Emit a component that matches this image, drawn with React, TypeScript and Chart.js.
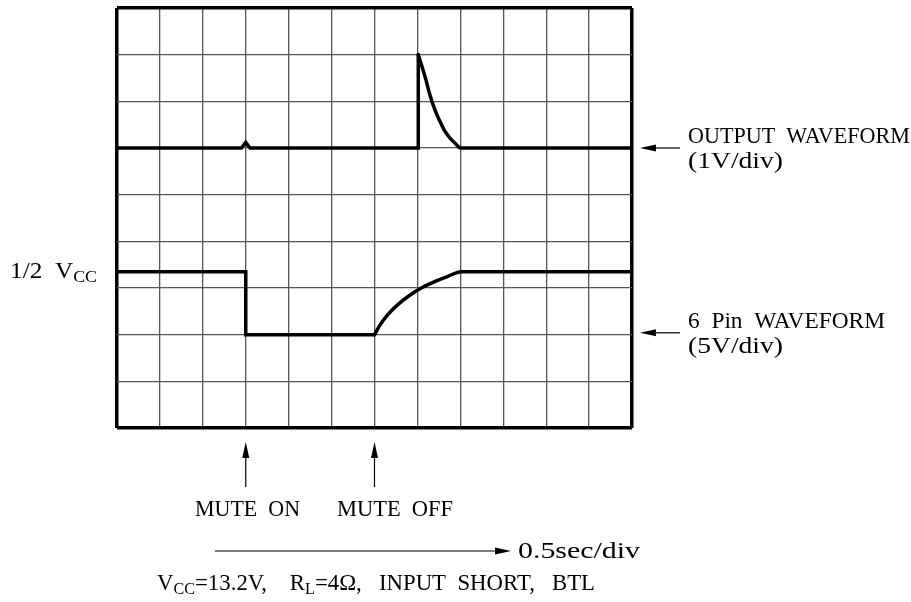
import { useEffect, useRef } from "react";
import { Chart, registerables } from "chart.js";

Chart.register(...registerables);

// Oscilloscope grid: 12 horizontal divisions (0.5 s/div), 9 vertical divisions
const xDivisions = 12;
const yDivisions = 9;

// OUTPUT WAVEFORM (1V/div) trace, in divisions: step part and decay part
const outputStepX = [0, 2.9, 3.0, 3.1, 7.02, 7.02];
const outputStepY = [6, 6, 6.12, 6, 6, 8];
const outputDecayX = [7.02, 7.18, 7.29, 7.41, 7.53, 7.64, 7.76, 7.88, 8.01, 12];
const outputDecayY = [8, 7.52, 7.14, 6.81, 6.56, 6.36, 6.21, 6.1, 6, 6];

// 6 Pin WAVEFORM (5V/div) trace, in divisions: step part and recovery part
const pinStepX = [0, 3, 3, 6];
const pinStepY = [3.35, 3.35, 2, 2];
const pinRiseX = [6, 6.13, 6.31, 6.55, 6.83, 7.11, 7.41, 7.71, 8.02, 12];
const pinRiseY = [2, 2.21, 2.43, 2.65, 2.85, 3.01, 3.14, 3.25, 3.35, 3.35];

// event markers (divisions)
const muteOnAt = 3;
const muteOffAt = 6;

const FONT = "Liberation Serif";

type Run = { t: string; sub?: boolean };

function drawRuns(ctx: CanvasRenderingContext2D, runs: Run[], x: number, y: number, width: number) {
  const fontOf = (r: Run) => (r.sub ? `17px "${FONT}"` : `24px "${FONT}"`);
  let total = 0;
  const ws: number[] = [];
  for (const r of runs) {
    ctx.font = fontOf(r);
    const w = ctx.measureText(r.t).width;
    ws.push(w);
    total += w;
  }
  const s = width / total;
  ctx.save();
  ctx.translate(x, y);
  ctx.scale(s, 1);
  ctx.fillStyle = "#000";
  ctx.textBaseline = "alphabetic";
  ctx.textAlign = "left";
  let cx = 0;
  runs.forEach((r, i) => {
    ctx.font = fontOf(r);
    ctx.fillText(r.t, cx, r.sub ? 4 : 0);
    cx += ws[i];
  });
  ctx.restore();
}

function arrow(ctx: CanvasRenderingContext2D, x1: number, y1: number, x2: number, y2: number) {
  const ang = Math.atan2(y2 - y1, x2 - x1);
  const len = 16;
  const hw = 3.5;
  ctx.save();
  ctx.strokeStyle = "#000";
  ctx.fillStyle = "#000";
  ctx.lineWidth = 1.2;
  ctx.beginPath();
  ctx.moveTo(x1, y1);
  ctx.lineTo(x2 - Math.cos(ang) * len * 0.8, y2 - Math.sin(ang) * len * 0.8);
  ctx.stroke();
  ctx.beginPath();
  ctx.moveTo(x2, y2);
  ctx.lineTo(x2 - Math.cos(ang) * len - Math.sin(ang) * hw, y2 - Math.sin(ang) * len + Math.cos(ang) * hw);
  ctx.lineTo(x2 - Math.cos(ang) * len + Math.sin(ang) * hw, y2 - Math.sin(ang) * len - Math.cos(ang) * hw);
  ctx.closePath();
  ctx.fill();
  ctx.restore();
}

const annotations = {
  id: "annotations",
  afterDraw(chart: any) {
    const ctx: CanvasRenderingContext2D = chart.ctx;
    const xs = chart.scales.x;
    const ys = chart.scales.y;
    const area = chart.chartArea;

    drawRuns(ctx, [{ t: "1/2  V" }, { t: "CC", sub: true }], 10, ys.getPixelForValue(pinStepY[0]) + 6, 87);

    const upY = ys.getPixelForValue(outputStepY[0]);
    const loY = ys.getPixelForValue(2.04);
    arrow(ctx, area.right + 48, upY, area.right + 8, upY);
    arrow(ctx, area.right + 48, loY, area.right + 8, loY);
    drawRuns(ctx, [{ t: "OUTPUT  WAVEFORM" }], 688, 143, 222);
    drawRuns(ctx, [{ t: "(1V/div)" }], 688, 168, 95);
    drawRuns(ctx, [{ t: "6  Pin  WAVEFORM" }], 688, 328, 197);
    drawRuns(ctx, [{ t: "(5V/div)" }], 688, 353, 95);

    const xOn = xs.getPixelForValue(muteOnAt);
    const xOff = xs.getPixelForValue(muteOffAt);
    arrow(ctx, xOn, area.bottom + 59, xOn, area.bottom + 14);
    arrow(ctx, xOff, area.bottom + 59, xOff, area.bottom + 14);
    drawRuns(ctx, [{ t: "MUTE  ON" }], 195, 516, 105);
    drawRuns(ctx, [{ t: "MUTE  OFF" }], 337, 516, 116);

    arrow(ctx, 215, 551, 511, 551);
    drawRuns(ctx, [{ t: "0.5sec/div" }], 518, 558, 122);

    drawRuns(
      ctx,
      [
        { t: "V" },
        { t: "CC", sub: true },
        { t: "=13.2V,    R" },
        { t: "L", sub: true },
        { t: "=4\u03A9,   INPUT  SHORT,   BTL" },
      ],
      157,
      590,
      438
    );
  },
};

const traceStyle = {
  borderColor: "#000",
  borderWidth: 3.5,
  pointRadius: 0,
  borderJoinStyle: "miter" as const,
  borderCapStyle: "round" as const,
};

export default function App() {
  const ref = useRef<HTMLCanvasElement | null>(null);

  useEffect(() => {
    document.body.style.margin = "0";
    if (!ref.current) return;
    const edgeX = (c: any) => c.tick && (c.tick.value === 0 || c.tick.value === xDivisions);
    const edgeY = (c: any) => c.tick && (c.tick.value === 0 || c.tick.value === yDivisions);
    const pts = (xs: number[], ys: number[]) => xs.map((x, i) => ({ x, y: ys[i] }));
    const chart = new Chart(ref.current, {
      type: "line",
      data: {
        datasets: [
          { label: "OUTPUT WAVEFORM", data: pts(outputStepX, outputStepY), tension: 0, ...traceStyle },
          {
            label: "OUTPUT WAVEFORM decay",
            data: pts(outputDecayX, outputDecayY),
            cubicInterpolationMode: "monotone",
            ...traceStyle,
          },
          { label: "6 Pin WAVEFORM", data: pts(pinStepX, pinStepY), tension: 0, ...traceStyle },
          {
            label: "6 Pin WAVEFORM rise",
            data: pts(pinRiseX, pinRiseY),
            cubicInterpolationMode: "monotone",
            ...traceStyle,
          },
        ],
      },
      options: {
        responsive: false,
        animation: false,
        devicePixelRatio: 1,
        layout: { padding: { left: 117, top: 8, right: 279, bottom: 174 } },
        plugins: { legend: { display: false }, tooltip: { enabled: false } },
        events: [],
        scales: {
          x: {
            type: "linear",
            min: 0,
            max: xDivisions,
            ticks: { display: false, stepSize: 1 },
            border: { display: false },
            grid: {
              drawTicks: false,
              color: (c: any) => (edgeX(c) ? "#000" : "#555"),
              lineWidth: (c: any) => (edgeX(c) ? 3.5 : 1.3),
            },
          },
          y: {
            type: "linear",
            min: 0,
            max: yDivisions,
            ticks: { display: false, stepSize: 1 },
            border: { display: false },
            grid: {
              drawTicks: false,
              color: (c: any) => (edgeY(c) ? "#000" : "#555"),
              lineWidth: (c: any) => (edgeY(c) ? 3.5 : 1.3),
            },
          },
        },
      },
      plugins: [annotations],
    });
    return () => chart.destroy();
  }, []);

  return <canvas ref={ref} width={911} height={602} style={{ display: "block" }} />;
}
